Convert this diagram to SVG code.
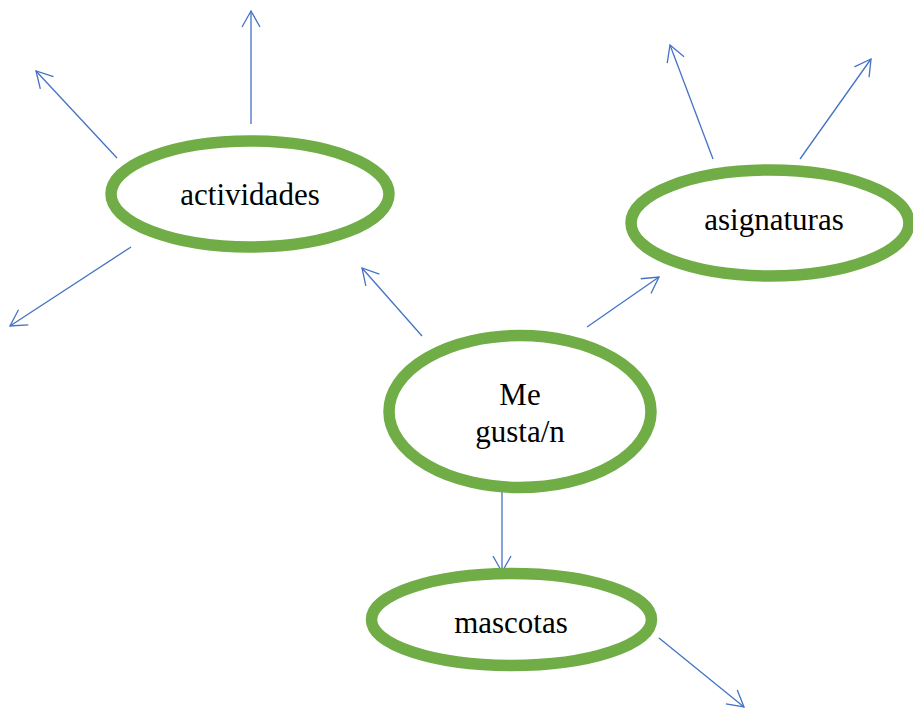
<svg xmlns="http://www.w3.org/2000/svg" width="913" height="709" viewBox="0 0 913 709">
<style>
.node{fill:#FFFFFF;stroke:#70AD47;stroke-width:11.5}
.lbl{font-family:"Liberation Serif","Times New Roman",serif;font-size:31px;fill:#000000;text-anchor:middle}
.conn{fill:none;stroke:#4472C4;stroke-width:1.3;marker-end:url(#arr)}
</style>
<defs>
<marker id="arr" markerUnits="userSpaceOnUse" markerWidth="20" markerHeight="20" viewBox="-18 -10 20 20" refX="0" refY="0" orient="auto" overflow="visible">
<path d="M-16,-9 L0,0 L-16,9" fill="none" stroke="#4472C4" stroke-width="1.3"/>
</marker>
</defs>
<rect width="913" height="709" fill="#FFFFFF"/>
<g id="connectors">
<line class="conn" x1="251" y1="124" x2="251" y2="11"/>
<line class="conn" x1="117" y1="158" x2="36" y2="71"/>
<line class="conn" x1="131" y1="247" x2="10" y2="326"/>
<line class="conn" x1="422" y1="336" x2="362" y2="268"/>
<line class="conn" x1="587" y1="327" x2="659" y2="277"/>
<line class="conn" x1="713" y1="159" x2="670" y2="45"/>
<line class="conn" x1="800" y1="159" x2="871" y2="59"/>
<line class="conn" x1="502" y1="479" x2="502" y2="572"/>
<line class="conn" x1="659" y1="638" x2="744" y2="707"/>
</g>
<g id="actividades">
<ellipse class="node" cx="250" cy="194" rx="139" ry="53"/>
<text class="lbl" x="250" y="205">actividades</text>
</g>
<g id="asignaturas">
<ellipse class="node" cx="770" cy="223" rx="139" ry="53"/>
<text class="lbl" x="774" y="230">asignaturas</text>
</g>
<g id="megusta">
<ellipse class="node" cx="520" cy="411.5" rx="131" ry="76"/>
<text class="lbl" x="520" y="405">Me</text>
<text class="lbl" x="520" y="442">gusta/n</text>
</g>
<g id="mascotas">
<ellipse class="node" cx="511.5" cy="619.5" rx="140" ry="46"/>
<text class="lbl" x="511" y="633">mascotas</text>
</g>
</svg>
